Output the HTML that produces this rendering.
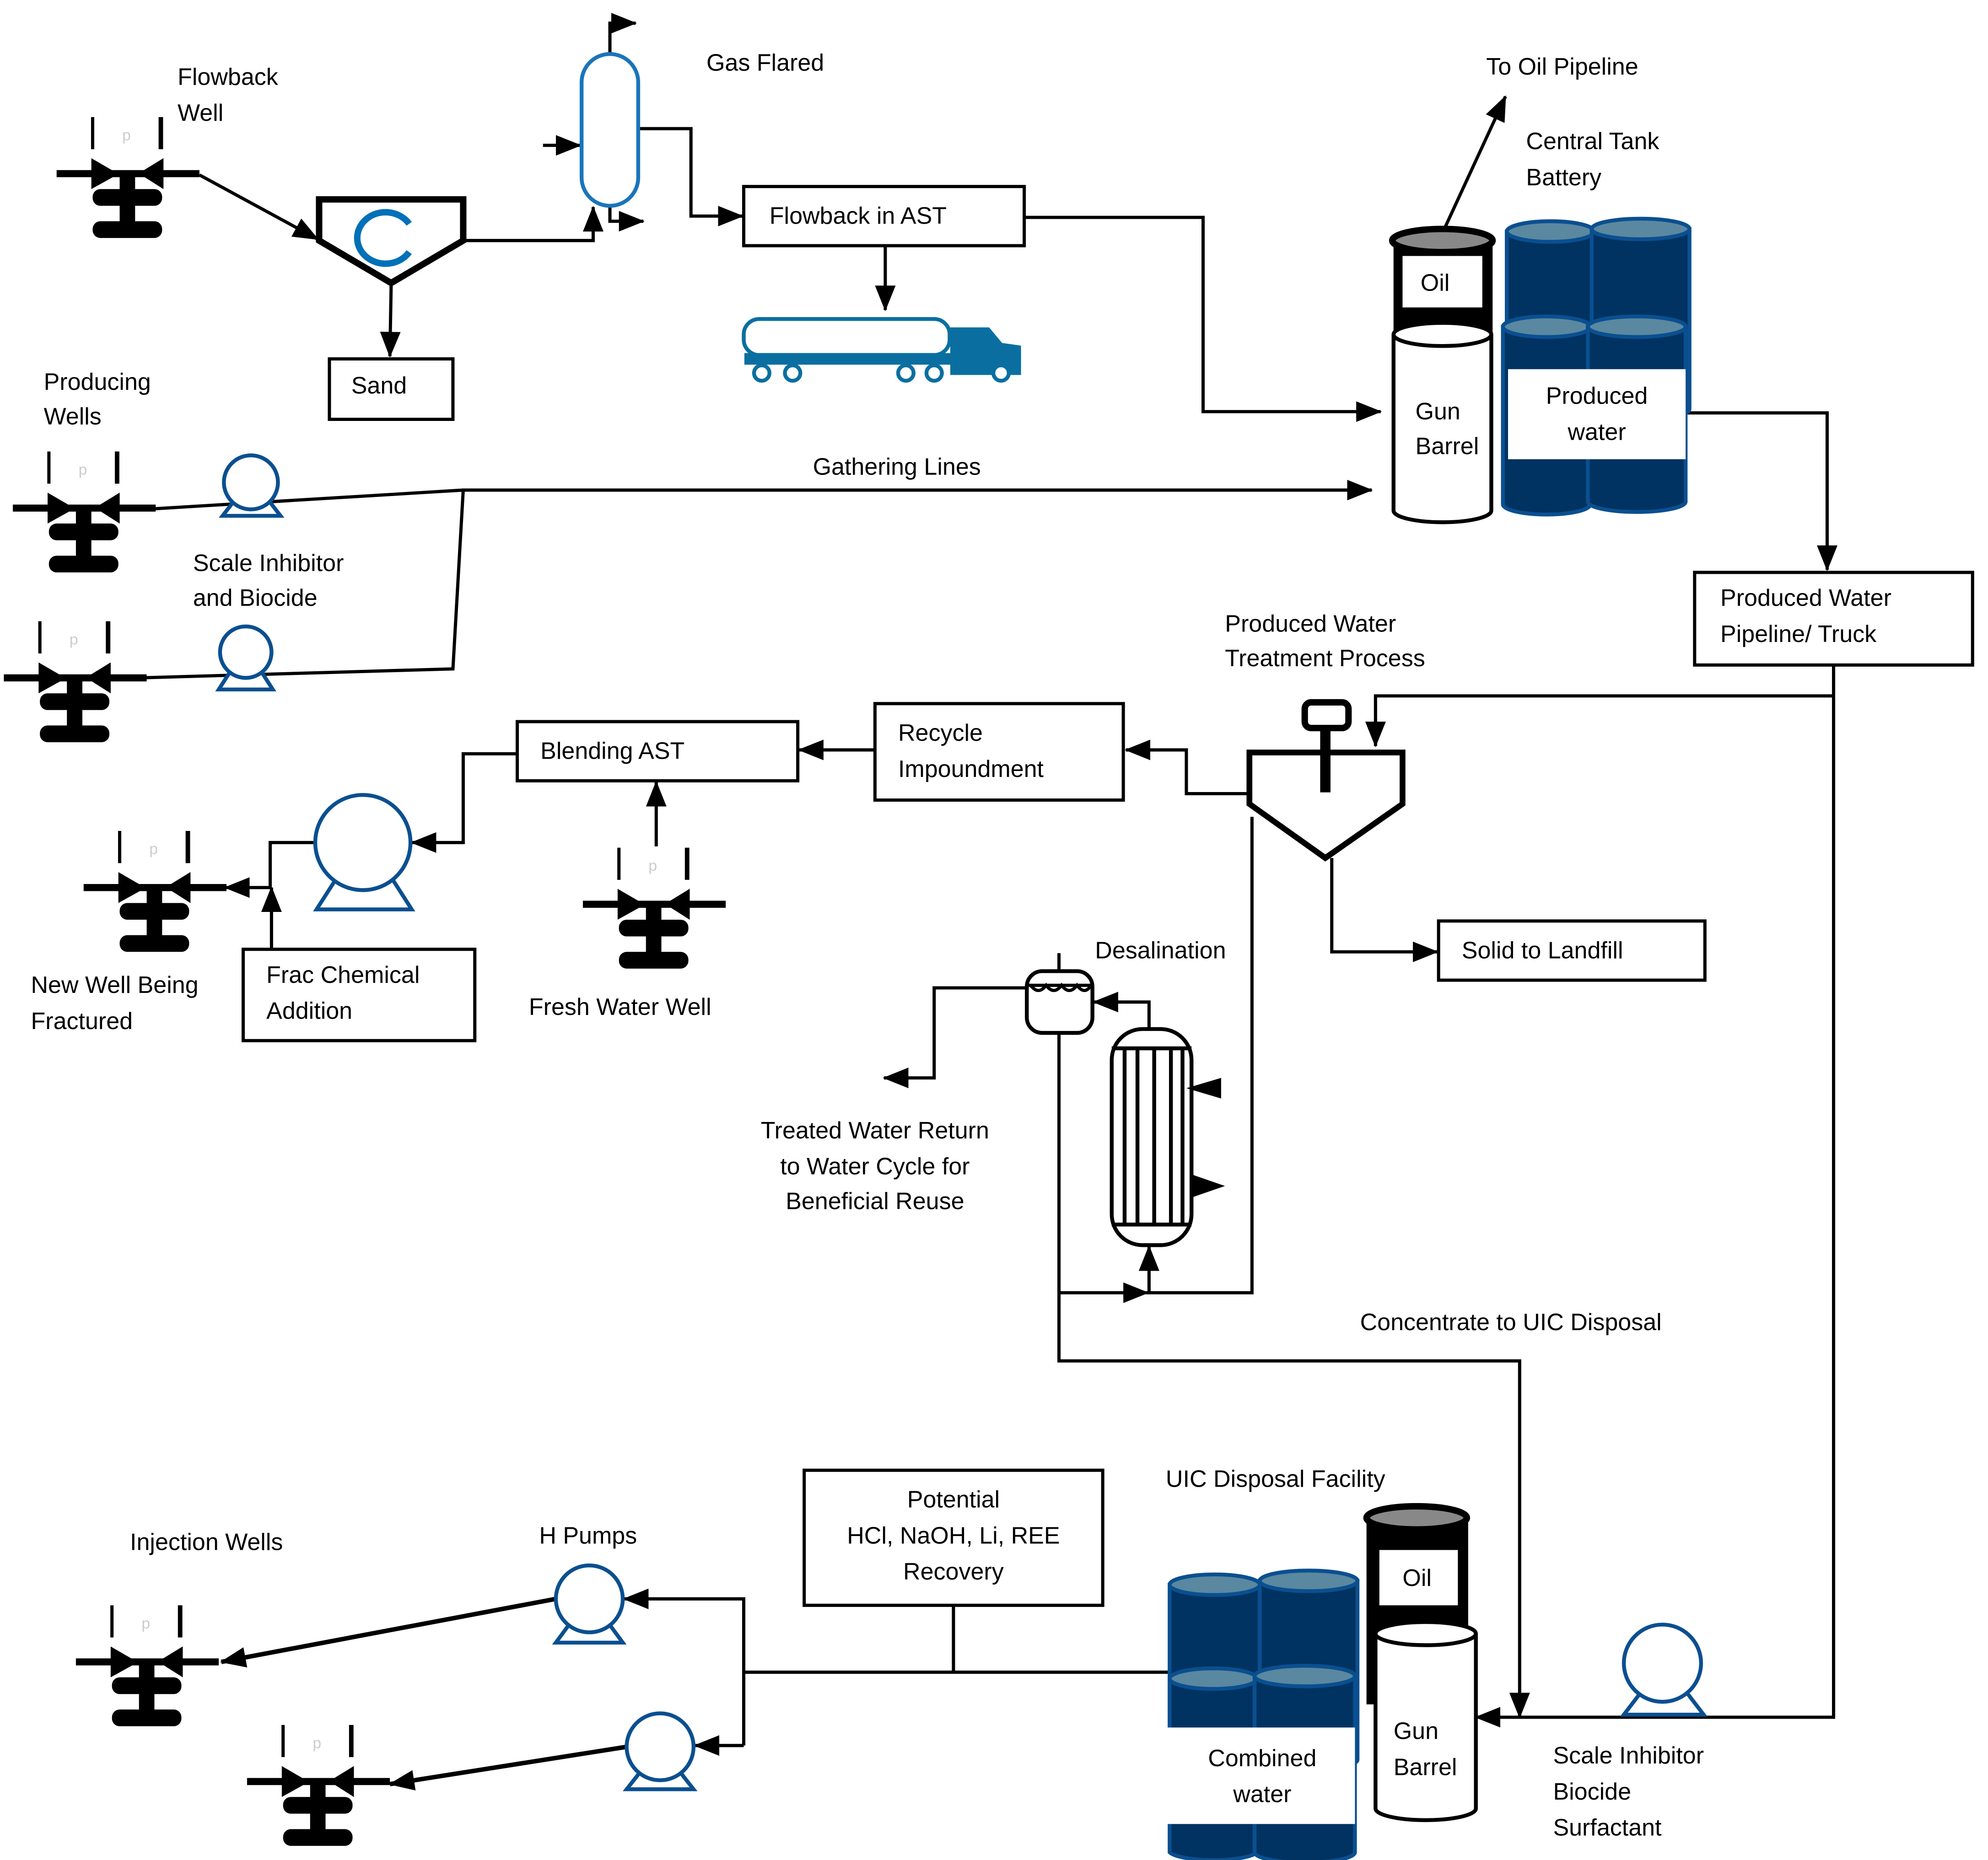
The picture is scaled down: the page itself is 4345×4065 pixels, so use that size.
<!DOCTYPE html>
<html><head><meta charset="utf-8"><style>
html,body{margin:0;padding:0;background:#fff}
svg{display:block}
text{font-family:"Liberation Sans",sans-serif;font-size:18.5px;fill:#000}
</style></head><body>
<svg width="4345" height="4065" viewBox="0 0 1545 1446" preserveAspectRatio="none" xmlns="http://www.w3.org/2000/svg">
<defs>
<marker id="a" markerUnits="userSpaceOnUse" markerWidth="22" markerHeight="18" refX="19" refY="8" orient="auto">
<path d="M0,0 L20,8 L0,16 Z" fill="#000"/></marker>
<g id="well">
<line x1="-55" y1="0" x2="56" y2="0" stroke="#000" stroke-width="5.5"/>
<line x1="-27" y1="-44" x2="-27" y2="-19" stroke="#000" stroke-width="2.5"/>
<line x1="26" y1="-44" x2="26" y2="-19" stroke="#000" stroke-width="3.5"/>
<path d="M-28,-12 L-28,12 L-9,-1 Z M-28,-12 L-10,2 L-28,12" fill="#000"/>
<path d="M28,-12 L28,12 L10,-1 Z" fill="#000"/>
<path d="M-28,-12 L-28,12 L-6,-2 L-6,2 Z" fill="#000"/>
<path d="M28,-12 L28,12 L6,-2 L6,2 Z" fill="#000"/>
<rect x="-6" y="0" width="12" height="48" fill="#000"/>
<rect x="-27" y="12" width="54" height="13" rx="6" fill="#000"/>
<rect x="-27" y="37" width="54" height="13" rx="6" fill="#000"/>
<text x="-4" y="-26" style="font-size:12px;fill:#ccc">p</text>
</g>
</defs>

<g fill="none" stroke="#000" stroke-width="2.5">
<!-- top section -->
<line x1="155" y1="136" x2="247" y2="186" marker-end="url(#a)"/>
<polyline points="360,187 461,187 461,161" marker-end="url(#a)"/>
<polyline points="474,42 474,18 494,18" marker-end="url(#a)"/>
<line x1="422" y1="113" x2="451" y2="113" marker-end="url(#a)"/>
<polyline points="474,160 474,172 500,172" marker-end="url(#a)"/>
<polyline points="496,100 537,100 537,168 577,168" marker-end="url(#a)"/>
<line x1="304" y1="221" x2="303" y2="277" marker-end="url(#a)"/>
<line x1="688" y1="191" x2="688" y2="241" marker-end="url(#a)"/>
<polyline points="796,169 935,169 935,320 1073,320" marker-end="url(#a)"/>
<line x1="1122" y1="179" x2="1170" y2="75" marker-end="url(#a)"/>
<polyline points="1311,321 1420,321 1420,443" marker-end="url(#a)"/>
<!-- gathering -->
<polyline points="112,396 360,381 1066,381" marker-end="url(#a)"/>
<polyline points="360,381 352,520 108,527"/>
<!-- right trunk -->
<polyline points="1425,517 1425,1335 1147,1335" marker-end="url(#a)"/>
<polyline points="1425,541 1069,541 1069,580" marker-end="url(#a)"/>
<!-- treatment -->
<polyline points="970,617 922,617 922,583 875,583" marker-end="url(#a)"/>
<line x1="680" y1="583" x2="621" y2="583" marker-end="url(#a)"/>
<line x1="510" y1="658" x2="510" y2="608" marker-end="url(#a)"/>
<polyline points="402,586 360,586 360,655 320,655" marker-end="url(#a)"/>
<polyline points="245,655 210,655 210,690 175,690" marker-end="url(#a)"/>
<line x1="211" y1="738" x2="211" y2="690" marker-end="url(#a)"/>
<polyline points="1035,667 1035,740 1117,740" marker-end="url(#a)"/>
<polyline points="973,635 973,1005 893,1005 893,969" marker-end="url(#a)"/>
<polyline points="823,1005 892,1005" marker-end="url(#a)"/>
<polyline points="823,803 823,1058 1181,1058 1181,1335" marker-end="url(#a)"/>
<polyline points="798,768 726,768 726,838 687,838" marker-end="url(#a)"/>
<polyline points="893,800 893,779 850,779" marker-end="url(#a)"/>
<!-- bottom -->
<line x1="741" y1="1248" x2="741" y2="1300"/>
<line x1="578" y1="1300" x2="910" y2="1300"/>
<polyline points="578,1357 578,1243 485,1243" marker-end="url(#a)"/>
<line x1="578" y1="1357" x2="540" y2="1357" marker-end="url(#a)"/>
<line x1="432" y1="1243" x2="172" y2="1292" marker-end="url(#a)" stroke-width="3.5"/>
<line x1="487" y1="1358" x2="303" y2="1387" marker-end="url(#a)" stroke-width="3.5"/>
</g>

<!-- wells -->
<use href="#well" x="99" y="135"/>
<use href="#well" x="65" y="395"/>
<use href="#well" x="58" y="527"/>
<use href="#well" x="120" y="690"/>
<use href="#well" x="508" y="703"/>
<use href="#well" x="114" y="1292"/>
<use href="#well" x="247" y="1385"/>

<!-- cyclone -->
<polygon points="248,155 360,155 360,187 304,220 248,187" fill="#fff" stroke="#000" stroke-width="5"/>
<path d="M318,174 A22,20 0 1 0 318,196" fill="none" stroke="#0070b8" stroke-width="5"/>
<!-- separator -->
<rect x="452" y="42" width="44" height="118" rx="22" fill="#fff" stroke="#1a75bb" stroke-width="3"/>

<!-- boxes -->
<g fill="#fff" stroke="#000" stroke-width="2.5">
<rect x="578" y="145" width="218" height="46"/>
<rect x="256" y="279" width="96" height="47"/>
<rect x="1317" y="445" width="216" height="72"/>
<rect x="680" y="547" width="193" height="75"/>
<rect x="402" y="561" width="218" height="46"/>
<rect x="189" y="738" width="180" height="71"/>
<rect x="1118" y="716" width="207" height="46"/>
<rect x="625" y="1143" width="232" height="105"/>
</g>

<!-- truck -->
<g fill="#fff" stroke="#0a6fa0" stroke-width="3">
<rect x="578" y="248" width="160" height="28" rx="12"/>
<path d="M740,256 L768,256 L778,268 L792,270 L792,290 L740,290 Z" fill="#0a6fa0"/>
<rect x="580" y="276" width="212" height="6" fill="#0a6fa0"/>
<circle cx="592" cy="290" r="6"/><circle cx="616" cy="290" r="6"/>
<circle cx="704" cy="290" r="6"/><circle cx="726" cy="290" r="6"/><circle cx="778" cy="290" r="6"/>
</g>

<!-- central tank battery -->
<g stroke="#0a4f90" stroke-width="3">
<path d="M1171,180 L1171,320 A34,8 0 0 0 1239,320 L1239,180 Z" fill="#003361"/>
<ellipse cx="1205" cy="180" rx="34" ry="8" fill="#5a88a0"/>
<path d="M1237,178 L1237,318 A38,8 0 0 0 1313,318 L1313,178 Z" fill="#003361"/>
<ellipse cx="1275" cy="178" rx="38" ry="8" fill="#5a88a0"/>
<path d="M1168,254 L1168,392 A34,8 0 0 0 1236,392 L1236,254 Z" fill="#003361"/>
<ellipse cx="1202" cy="254" rx="34" ry="8" fill="#5a88a0"/>
<path d="M1234,254 L1234,390 A38,8 0 0 0 1310,390 L1310,254 Z" fill="#003361"/>
<ellipse cx="1272" cy="254" rx="38" ry="8" fill="#5a88a0"/>
</g>
<rect x="1172" y="287" width="138" height="70" fill="#fff"/>
<path d="M1083,187 L1083,258 L1160,258 L1160,187 Z" fill="#000"/>
<ellipse cx="1121" cy="187" rx="39" ry="9" fill="#888" stroke="#000" stroke-width="5"/>
<rect x="1090" y="199" width="62" height="40" fill="#fff"/>
<path d="M1083,260 L1083,397 A38,9 0 0 0 1159,397 L1159,260" fill="#fff" stroke="#000" stroke-width="3"/>
<ellipse cx="1121" cy="260" rx="38" ry="9" fill="#fff" stroke="#000" stroke-width="3"/>

<!-- pumps -->
<g fill="#fff" stroke="#0a4f90" stroke-width="3">
<path d="M183,388 L173,401 L218,401 L208,388"/><circle cx="195" cy="375" r="21"/>
<path d="M179,522 L170,536 L212,536 L203,522"/><circle cx="191" cy="507" r="20"/>
<path d="M262,682 L246,707 L320,707 L304,682"/><circle cx="282" cy="655" r="37"/>
<path d="M443,1262 L432,1277 L484,1277 L473,1262"/><circle cx="458" cy="1243" r="26"/>
<path d="M498,1377 L487,1391 L539,1391 L528,1377"/><circle cx="513" cy="1358" r="26"/>
<path d="M1275,1316 L1262,1333 L1324,1333 L1311,1316"/><circle cx="1292" cy="1293" r="30"/>
</g>

<!-- clarifier -->
<polygon points="971,585 1090,585 1090,625 1030,667 971,625" fill="#fff" stroke="#000" stroke-width="4.5"/>
<rect x="1014" y="546" width="34" height="20" rx="5" fill="#fff" stroke="#000" stroke-width="5"/>
<rect x="1026" y="566" width="8" height="50" fill="#000"/>
<!-- desal -->
<rect x="798" y="755" width="51" height="48" rx="12" fill="#fff" stroke="#000" stroke-width="3"/>
<line x1="823" y1="741" x2="823" y2="755" stroke="#000" stroke-width="2.5"/>
<path d="M799,766 L849,766 M801,766 q6,8 12,0 q6,8 12,0 q6,8 12,0 q6,8 11,0" fill="none" stroke="#000" stroke-width="2.5"/>
<rect x="864" y="800" width="62" height="168" rx="24" fill="#fff" stroke="#000" stroke-width="3"/>
<g stroke="#000" stroke-width="3"><line x1="864" y1="815" x2="926" y2="815"/><line x1="864" y1="952" x2="926" y2="952"/>
<line x1="874" y1="815" x2="874" y2="952"/><line x1="884" y1="815" x2="884" y2="952"/><line x1="897" y1="815" x2="897" y2="952"/><line x1="910" y1="815" x2="910" y2="952"/><line x1="919" y1="815" x2="919" y2="952"/></g>
<path d="M949,838 L949,854 L922,846 Z M926,913 L926,931 L952,922 Z" fill="#000"/>

<!-- UIC tanks -->
<g stroke="#0a4f90" stroke-width="3">
<path d="M909,1232 L909,1370 A35,8 0 0 0 979,1370 L979,1232 Z" fill="#003361"/>
<ellipse cx="944" cy="1232" rx="35" ry="8" fill="#5a88a0"/>
<path d="M979,1229 L979,1368 A38,8 0 0 0 1055,1368 L1055,1229 Z" fill="#003361"/>
<ellipse cx="1017" cy="1229" rx="38" ry="8" fill="#5a88a0"/>
<path d="M909,1305 L909,1440 A35,8 0 0 0 977,1440 L977,1305 Z" fill="#003361"/>
<ellipse cx="943" cy="1305" rx="34" ry="8" fill="#5a88a0"/>
<path d="M975,1303 L975,1440 A39,8 0 0 0 1053,1440 L1053,1303 Z" fill="#003361"/>
<ellipse cx="1014" cy="1303" rx="39" ry="8" fill="#5a88a0"/>
</g>
<rect x="905" y="1343" width="148" height="75" fill="#fff"/>
<path d="M1062,1180 L1062,1325 L1141,1325 L1141,1180 Z" fill="#000"/>
<ellipse cx="1101" cy="1180" rx="39" ry="9" fill="#888" stroke="#000" stroke-width="5"/>
<rect x="1072" y="1205" width="61" height="43" fill="#fff"/>
<path d="M1069,1270 L1069,1406 A39,9 0 0 0 1147,1406 L1147,1270" fill="#fff" stroke="#000" stroke-width="3"/>
<ellipse cx="1108" cy="1270" rx="39" ry="9" fill="#fff" stroke="#000" stroke-width="3"/>

<!-- labels -->
<text x="138" y="66">Flowback</text><text x="138" y="94">Well</text>
<text x="549" y="55">Gas Flared</text>
<text x="598" y="174">Flowback in AST</text>
<text x="273" y="306">Sand</text>
<text x="1155" y="58">To Oil Pipeline</text>
<text x="1186" y="116">Central Tank</text><text x="1186" y="144">Battery</text>
<text x="1104" y="226">Oil</text>
<text x="1100" y="326">Gun</text><text x="1100" y="353">Barrel</text>
<text x="1241" y="314" text-anchor="middle">Produced</text><text x="1241" y="342" text-anchor="middle">water</text>
<text x="34" y="303">Producing</text><text x="34" y="330">Wells</text>
<text x="697" y="369" text-anchor="middle">Gathering Lines</text>
<text x="150" y="444">Scale Inhibitor</text><text x="150" y="471">and Biocide</text>
<text x="1337" y="471">Produced Water</text><text x="1337" y="499">Pipeline/ Truck</text>
<text x="952" y="491">Produced Water</text><text x="952" y="518">Treatment Process</text>
<text x="698" y="576">Recycle</text><text x="698" y="604">Impoundment</text>
<text x="420" y="590">Blending AST</text>
<text x="207" y="764">Frac Chemical</text><text x="207" y="792">Addition</text>
<text x="24" y="772">New Well Being</text><text x="24" y="800">Fractured</text>
<text x="411" y="789">Fresh Water Well</text>
<text x="1136" y="745">Solid to Landfill</text>
<text x="851" y="745">Desalination</text>
<text x="680" y="885" text-anchor="middle">Treated Water Return</text>
<text x="680" y="913" text-anchor="middle">to Water Cycle for</text>
<text x="680" y="940" text-anchor="middle">Beneficial Reuse</text>
<text x="1057" y="1034">Concentrate to UIC Disposal</text>
<text x="741" y="1172" text-anchor="middle">Potential</text>
<text x="741" y="1200" text-anchor="middle">HCl, NaOH, Li, REE</text>
<text x="741" y="1228" text-anchor="middle">Recovery</text>
<text x="906" y="1156">UIC Disposal Facility</text>
<text x="101" y="1205">Injection Wells</text>
<text x="419" y="1200">H Pumps</text>
<text x="1090" y="1233">Oil</text>
<text x="1083" y="1352">Gun</text><text x="1083" y="1380">Barrel</text>
<text x="981" y="1373" text-anchor="middle">Combined</text><text x="981" y="1401" text-anchor="middle">water</text>
<text x="1207" y="1371">Scale Inhibitor</text><text x="1207" y="1399">Biocide</text><text x="1207" y="1427">Surfactant</text>
</svg>
</body></html>
